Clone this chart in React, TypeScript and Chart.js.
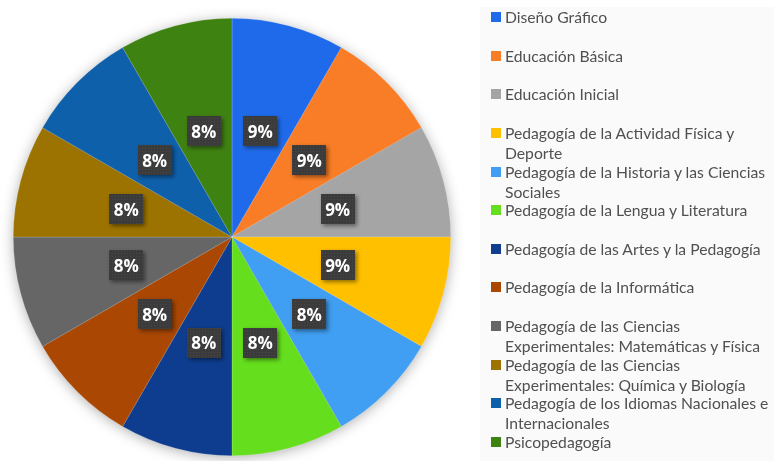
import React, { useEffect, useRef } from 'react';
import { Chart, registerables } from 'chart.js';

Chart.register(...registerables);

const categories = [
  'Diseño Gráfico',
  'Educación Básica',
  'Educación Inicial',
  'Pedagogía de la Actividad Física y\nDeporte',
  'Pedagogía de la Historia y las Ciencias\nSociales',
  'Pedagogía de la Lengua y Literatura',
  'Pedagogía de las Artes y la Pedagogía',
  'Pedagogía de la Informática',
  'Pedagogía de las Ciencias\nExperimentales: Matemáticas y Física',
  'Pedagogía de las Ciencias\nExperimentales: Química y Biología',
  'Pedagogía de los Idiomas Nacionales e\nInternacionales',
  'Psicopedagogía',
];

// slice sizes (all slices span ~30°)
const values = [1, 1, 1, 1, 1, 1, 1, 1, 1, 1, 1, 1];

// percentage labels as printed on the chart
const percentLabels = ['9%', '9%', '9%', '9%', '8%', '8%', '8%', '8%', '8%', '8%', '8%', '8%'];

const colors = [
  '#1f6aeb',
  '#f97d26',
  '#a5a5a5',
  '#ffc000',
  '#409ff2',
  '#65de1d',
  '#0e3d8f',
  '#a94703',
  '#666666',
  '#9c7300',
  '#0f60ab',
  '#3e8211',
];

function makePattern(ctx: CanvasRenderingContext2D) {
  const c = document.createElement('canvas');
  c.width = 3;
  c.height = 3;
  const p = c.getContext('2d')!;
  p.fillStyle = '#3b3b3b';
  p.fillRect(0, 0, 3, 3);
  p.fillStyle = '#484848';
  p.fillRect(1, 1, 1, 1);
  return ctx.createPattern(c, 'repeat') || '#3b3b3b';
}

const shadowPlugin = {
  id: 'pieShadow',
  beforeDatasetsDraw(chart: any) {
    const meta = chart.getDatasetMeta(0);
    const arc = meta.data[0];
    if (!arc) return;
    const { x, y, outerRadius } = arc.getProps(['x', 'y', 'outerRadius'], true);
    const ctx = chart.ctx;
    ctx.save();
    ctx.shadowColor = 'rgba(0,0,0,0.35)';
    ctx.shadowBlur = 14;
    ctx.shadowOffsetY = 2;
    ctx.beginPath();
    ctx.arc(x, y, outerRadius - 1, 0, Math.PI * 2);
    ctx.fillStyle = '#888888';
    ctx.fill();
    ctx.restore();
  },
};

const labelPlugin = {
  id: 'pctBoxes',
  afterDatasetsDraw(chart: any) {
    const meta = chart.getDatasetMeta(0);
    const ctx: CanvasRenderingContext2D = chart.ctx;
    const pattern = makePattern(ctx);
    meta.data.forEach((arc: any, i: number) => {
      const pos = arc.tooltipPosition(true);
      const txt = percentLabels[i];
      const w = 34;
      const h = 30;
      ctx.save();
      ctx.shadowColor = 'rgba(0,0,0,0.45)';
      ctx.shadowBlur = 4;
      ctx.shadowOffsetX = 2;
      ctx.shadowOffsetY = 2;
      ctx.fillStyle = pattern as any;
      ctx.fillRect(Math.round(pos.x - w / 2), Math.round(pos.y - h / 2), w, h);
      ctx.restore();
      ctx.save();
      ctx.fillStyle = '#ffffff';
      ctx.font = 'bold 17px "Open Sans"';
      ctx.textAlign = 'center';
      ctx.textBaseline = 'middle';
      ctx.fillText(txt, pos.x, pos.y + 2);
      ctx.restore();
    });
  },
};

export default function App() {
  const ref = useRef<HTMLCanvasElement>(null);

  useEffect(() => {
    if (!ref.current) return;
    const chart = new Chart(ref.current, {
      type: 'pie',
      data: {
        labels: categories.map((c) => c.replace('\n', ' ')),
        datasets: [
          {
            data: values,
            backgroundColor: colors,
            borderColor: 'rgba(255,255,255,0.35)',
            borderWidth: 0.5,
          },
        ],
      },
      options: {
        responsive: false,
        maintainAspectRatio: false,
        animation: false,
        layout: { padding: { left: 13, right: 323, top: 18, bottom: 5 } },
        plugins: {
          legend: { display: false },
          tooltip: { enabled: false },
        },
      },
      plugins: [shadowPlugin, labelPlugin],
    });
    return () => chart.destroy();
  }, []);

  return (
    <div style={{ position: 'fixed', left: 0, top: 0, width: 774, height: 461, background: '#ffffff', overflow: 'hidden' }}>
      <div style={{ position: 'absolute', left: 480, top: 7, width: 294, height: 454, background: '#fafafa' }} />
      <canvas ref={ref} width={774} height={461} style={{ position: 'absolute', left: 0, top: 0, width: 774, height: 461 }} />
      <div style={{ position: 'absolute', left: 480, top: 0, width: 294, height: 461, fontFamily: 'Lato, "Noto Sans", sans-serif', fontSize: 15.7, color: '#505050' }}>
        {categories.map((c, i) => (
          <div key={i} style={{ position: 'absolute', left: 0, top: 7 + 38.64 * i, width: 294 }}>
            <div style={{ position: 'absolute', left: 11, top: 5, width: 10, height: 10, background: colors[i] }} />
            <div style={{ position: 'absolute', left: 25, top: 0, lineHeight: '20px', whiteSpace: 'pre' }}>{c}</div>
          </div>
        ))}
      </div>
    </div>
  );
}
